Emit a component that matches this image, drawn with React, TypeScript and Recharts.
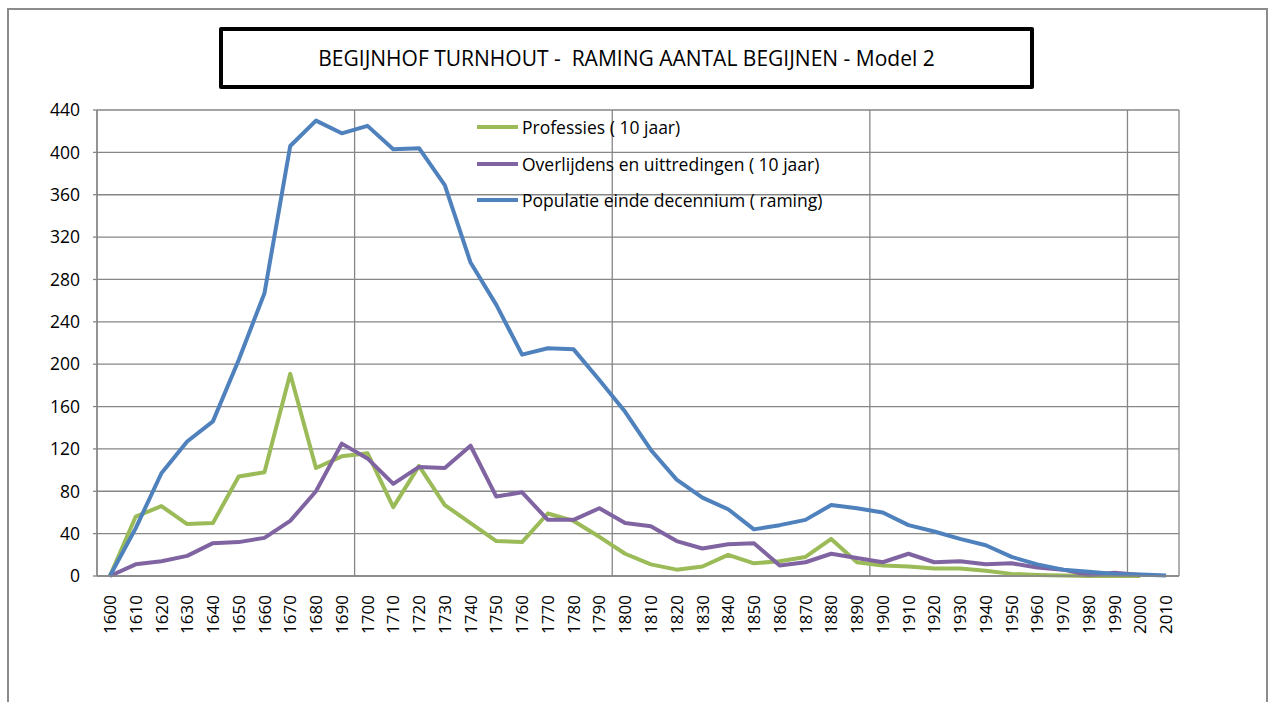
import React from 'react';
import { LineChart, Line, XAxis, YAxis, CartesianGrid, Legend } from 'recharts';

const years = [
  1600, 1610, 1620, 1630, 1640, 1650, 1660, 1670, 1680, 1690,
  1700, 1710, 1720, 1730, 1740, 1750, 1760, 1770, 1780, 1790,
  1800, 1810, 1820, 1830, 1840, 1850, 1860, 1870, 1880, 1890,
  1900, 1910, 1920, 1930, 1940, 1950, 1960, 1970, 1980, 1990,
  2000, 2010,
];

const professies = [
  0, 56, 66, 49, 50, 94, 98, 191, 102, 113,
  116, 65, 104, 67, 50, 33, 32, 59, 52, 37,
  21, 11, 6, 9, 20, 12, 14, 18, 35, 13,
  10, 9, 7, 7, 5, 2, 1, 0.5, 0, 0,
  0, null,
];

const overlijdens = [
  0, 11, 14, 19, 31, 32, 36, 52, 80, 125,
  111, 87, 103, 102, 123, 75, 79, 53, 53, 64,
  50, 47, 33, 26, 30, 31, 10, 13, 21, 17,
  13, 21, 13, 14, 11, 12, 8, 6, 1, 3,
  1, null,
];

const populatie = [
  0, 45, 97, 127, 146, 204, 267, 406, 430, 418,
  425, 403, 404, 369, 296, 256, 209, 215, 214, 185,
  155, 119, 91, 74, 63, 44, 48, 53, 67, 64,
  60, 48, 42, 35, 29, 18, 11, 6, 4, 2,
  1.5, 0.5,
];

const yTicks = [0, 40, 80, 120, 160, 200, 240, 280, 320, 360, 400, 440];
const centuryBoundaries = [1695, 1795, 1895, 1995];

const title = 'BEGIJNHOF TURNHOUT -  RAMING AANTAL BEGIJNEN - Model 2';

const series = [
  { key: 'professies', name: 'Professies ( 10 jaar)', color: '#9BBB59' },
  { key: 'overlijdens', name: 'Overlijdens en uittredingen ( 10 jaar)', color: '#8064A2' },
  { key: 'populatie', name: 'Populatie einde decennium ( raming)', color: '#4F81BD' },
];

const data = years.map((year, i) => ({
  year,
  professies: professies[i],
  overlijdens: overlijdens[i],
  populatie: populatie[i],
}));

const FONT = '"Open Sans", "Liberation Sans", sans-serif';
const GRID = '#868686';

const XTick = (props: any) => {
  const { x, y, payload } = props;
  return (
    <g transform={`translate(${x},${y})`}>
      <text
        transform="rotate(-90)"
        x={-11}
        y={0}
        dy="0.36em"
        textAnchor="end"
        fontSize={17}
        fontFamily={FONT}
        fill="#000"
      >
        {payload.value}
      </text>
    </g>
  );
};

const YTick = (props: any) => {
  const { x, y, payload } = props;
  return (
    <text
      x={x - 4}
      y={y}
      dy="0.36em"
      textAnchor="end"
      fontSize={17.5}
      fontFamily={FONT}
      fill="#000"
    >
      {payload.value}
    </text>
  );
};

const renderLegend = () => (
  <div style={{ fontFamily: FONT, fontSize: 17.5, color: '#000' }}>
    {series.map((s) => (
      <div key={s.key} style={{ display: 'flex', alignItems: 'center', height: 36.5, whiteSpace: 'nowrap' }}>
        <svg width={42} height={6} style={{ display: 'block' }}>
          <line x1={0} y1={3} x2={41} y2={3} stroke={s.color} strokeWidth={4} />
        </svg>
        <span style={{ marginLeft: 3 }}>{s.name}</span>
      </div>
    ))}
  </div>
);

export default function App() {
  return (
    <div style={{ position: 'absolute', left: 0, top: 0, width: 1272, height: 702, background: '#fff', overflow: 'hidden' }}>
      <div
        style={{
          position: 'absolute',
          left: 7,
          top: 8,
          width: 1261,
          height: 710,
          border: '2px solid #8c8c8c',
          boxSizing: 'border-box',
        }}
      />
      <div
        style={{
          position: 'absolute',
          left: 219,
          top: 27,
          width: 815,
          height: 62,
          border: '4px solid #000',
          borderRadius: 2,
          boxSizing: 'border-box',
          display: 'flex',
          alignItems: 'center',
          justifyContent: 'center',
          fontFamily: FONT,
          fontSize: 21,
          color: '#000',
          whiteSpace: 'pre',
        }}
      >
        {title}
      </div>
      <div style={{ position: 'absolute', left: 0, top: 0 }}>
        <LineChart
          width={1272}
          height={702}
          data={data}
          margin={{ top: 110, right: 93, bottom: 66, left: 37 }}
        >
          <CartesianGrid
            xAxisId="grid"
            stroke={GRID}
            strokeWidth={1.3}
            horizontal={true}
            vertical={true}
          />
          <XAxis
            xAxisId="grid"
            dataKey="year"
            type="number"
            domain={[1595, 2015]}
            ticks={centuryBoundaries}
            hide
          />
          <XAxis
            dataKey="year"
            type="number"
            domain={[1595, 2015]}
            ticks={years}
            interval={0}
            height={60}
            tickLine={false}
            axisLine={{ stroke: GRID, strokeWidth: 1.3 }}
            tick={<XTick />}
          />
          <YAxis
            domain={[0, 440]}
            ticks={yTicks}
            interval={0}
            width={60}
            tickSize={4}
            tickMargin={9}
            tickLine={{ stroke: GRID, strokeWidth: 1.3 }}
            axisLine={{ stroke: GRID, strokeWidth: 1.3 }}
            tick={<YTick />}
          />
          <Legend
            layout="vertical"
            align="center"
            verticalAlign="middle"
            wrapperStyle={{ left: 477, top: 109, width: 440 }}
            content={renderLegend}
          />
          {series.map((s) => (
            <Line
              key={s.key}
              dataKey={s.key}
              name={s.name}
              stroke={s.color}
              strokeWidth={4}
              dot={false}
              activeDot={false}
              isAnimationActive={false}
              strokeLinejoin="round"
            />
          ))}
        </LineChart>
      </div>
    </div>
  );
}
